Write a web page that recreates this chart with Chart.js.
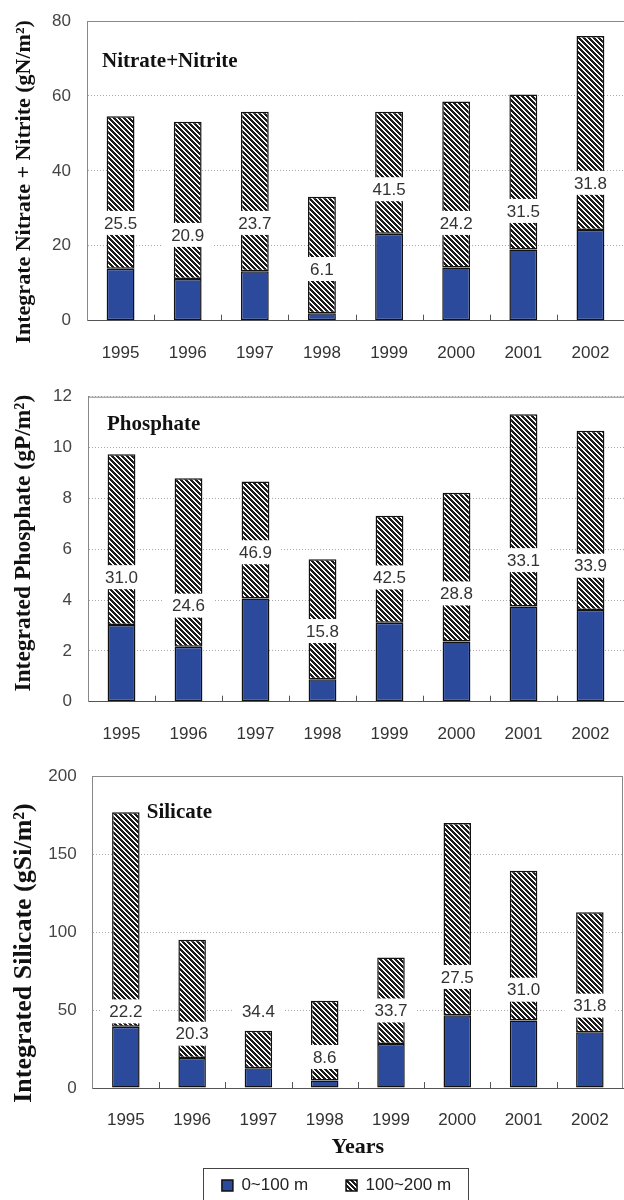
<!DOCTYPE html>
<html>
<head>
<meta charset="utf-8">
<script src="https://cdn.jsdelivr.net/npm/chart.js@4.4.0/dist/chart.umd.min.js"></script>
<style>
  body { margin: 0; background: #fff; width: 624px; height: 1200px; overflow: hidden; position: relative; }
  canvas { position: absolute; left: 0; }
</style>
</head>
<body>
<canvas id="nitrate" width="624" height="360" style="top:0"></canvas>
<canvas id="phosphate" width="624" height="380" style="top:360px"></canvas>
<canvas id="silicate" width="624" height="493" style="top:740px"></canvas>
<script>
const years = ['1995', '1996', '1997', '1998', '1999', '2000', '2001', '2002'];
const seriesNames = ['0~100 m', '100~200 m'];

// 0~100 m and 100~200 m layers, plus the % of the upper layer printed on each bar
const nitrateUpper = [13.9, 11.1, 13.2, 2.0, 23.2, 14.2, 19.0, 24.2];
const nitrateLower = [40.7, 42.0, 42.6, 31.1, 32.6, 44.3, 41.4, 51.8];
const nitratePct = ['25.5', '20.9', '23.7', '6.1', '41.5', '24.2', '31.5', '31.8'];
const nitratePctAt = [26.1, 22.9, 26.1, 13.8, 35.1, 26.1, 29.3, 36.8];

const phosphateUpper = [3.02, 2.16, 4.06, 0.88, 3.11, 2.37, 3.75, 3.61];
const phosphateLower = [6.72, 6.63, 4.60, 4.72, 4.21, 5.85, 7.56, 7.05];
const phosphatePct = ['31.0', '24.6', '46.9', '15.8', '42.5', '28.8', '33.1', '33.9'];
const phosphatePctAt = [4.90, 3.78, 5.88, 2.78, 4.89, 4.26, 5.57, 5.35];

const silicateUpper = [39.2, 19.3, 12.6, 4.8, 28.2, 46.7, 43.2, 35.8];
const silicateLower = [137.5, 75.8, 24.1, 51.2, 55.5, 123.2, 96.1, 76.8];
const silicatePct = ['22.2', '20.3', '34.4', '8.6', '33.7', '27.5', '31.0', '31.8'];
const silicatePctAt = [49.1, 34.8, 49.1, 19.9, 49.7, 71.2, 63.0, 52.8];

Chart.defaults.font.family = '"Liberation Sans", Arial, sans-serif';
Chart.defaults.color = '#333';

function hatch() {
  const n = 5;
  const c = document.createElement('canvas');
  c.width = n; c.height = n;
  const g = c.getContext('2d');
  g.fillStyle = '#fafafa';
  g.fillRect(0, 0, n, n);
  g.fillStyle = '#1c1c1c';
  for (let y = 0; y < n; y++) {
    for (let k = 0; k < 3; k++) g.fillRect((y + k) % n, y, 1, 1);
  }
  return g.createPattern(c, 'repeat');
}

const serif = '"Liberation Serif", "Times New Roman", serif';

// top edge, optional right edge, little inward ticks between years, panel name, axis title
const frame = {
  id: 'frame',
  beforeDatasetsDraw(chart, args, opts) {
    const { ctx, chartArea: a, scales: { x } } = chart;
    ctx.save();
    ctx.strokeStyle = '#888';
    ctx.lineWidth = 1;
    ctx.beginPath();
    ctx.moveTo(a.left, a.top + 0.5);
    ctx.lineTo(a.right, a.top + 0.5);
    if (opts.rightEdge) {
      ctx.moveTo(a.right - 0.5, a.top);
      ctx.lineTo(a.right - 0.5, a.bottom);
    }
    ctx.stroke();
    ctx.strokeStyle = '#555';
    ctx.beginPath();
    for (let i = 0; i < x.ticks.length - 1; i++) {
      const px = Math.round((x.getPixelForValue(i) + x.getPixelForValue(i + 1)) / 2) + 0.5;
      ctx.moveTo(px, a.bottom);
      ctx.lineTo(px, a.bottom - 6);
    }
    ctx.stroke();
    ctx.restore();
  },
  afterDatasetsDraw(chart, args, opts) {
    const { ctx, chartArea: a } = chart;
    ctx.save();
    ctx.font = 'bold 21px ' + serif;
    ctx.fillStyle = '#111';
    ctx.textBaseline = 'middle';
    ctx.fillText(opts.name, a.left + opts.dx, a.top + opts.dy);

    ctx.translate(24, (a.top + a.bottom) / 2 + opts.titleShift);
    ctx.rotate(-Math.PI / 2);
    ctx.font = 'bold ' + opts.titleSize + 'px ' + serif;
    ctx.textAlign = 'center';
    ctx.fillText(opts.title, 0, 0);
    ctx.restore();
  }
};

const pctLabels = {
  id: 'pctLabels',
  afterDatasetsDraw(chart, args, opts) {
    const { ctx, scales: { x, y } } = chart;
    ctx.save();
    ctx.font = '17px "Liberation Sans", Arial, sans-serif';
    ctx.textAlign = 'center';
    ctx.textBaseline = 'middle';
    opts.text.forEach((t, i) => {
      const px = x.getPixelForValue(i);
      const py = y.getPixelForValue(opts.at[i]);
      const w = ctx.measureText(t).width + 18;
      ctx.fillStyle = '#fff';
      ctx.fillRect(px - w / 2, py - 12, w, 24);
      ctx.fillStyle = '#333';
      ctx.fillText(t, px, py + 1);
    });
    ctx.restore();
  }
};

const legendFrame = {
  id: 'legendFrame',
  afterLayout(chart, args, opts) {
    const lg = chart.legend;
    if (!lg || !lg.options.display) return;
    lg.left += opts.dx; lg.right += opts.dx;
    lg.top += opts.dy; lg.bottom += opts.dy;
  },
  afterDraw(chart) {
    const lg = chart.legend;
    if (!lg || !lg.options.display) return;
    const hb = lg.legendHitBoxes;
    const first = hb[0], last = hb[hb.length - 1];
    const ctx = chart.ctx;
    ctx.save();
    ctx.strokeStyle = '#444';
    ctx.lineWidth = 1;
    const l = Math.round(first.left - 19) + 0.5;
    const r = Math.round(last.left + last.width + 17) + 0.5;
    const t = Math.round(first.top - 9) + 0.5;
    ctx.strokeRect(l, t, r - l, 60);
    ctx.restore();
  }
};

function makeChart(id, p) {
  const hatchFill = hatch();
  new Chart(document.getElementById(id), {
    type: 'bar',
    data: {
      labels: years,
      datasets: [
        { label: seriesNames[0], data: p.upper, backgroundColor: '#2c4a9b',
          borderColor: '#111', borderWidth: 1.5, borderSkipped: false },
        { label: seriesNames[1], data: p.lower, backgroundColor: hatchFill,
          borderColor: '#111', borderWidth: 1.5, borderSkipped: false }
      ]
    },
    options: {
      responsive: false,
      animation: false,
      layout: { padding: { top: p.top, right: p.right, left: 0, bottom: 0 } },
      datasets: { bar: { barPercentage: 0.415, categoryPercentage: 1 } },
      scales: {
        x: {
          stacked: true,
          grid: { display: false },
          border: { display: true, color: '#555', width: 1 },
          ticks: { font: { size: 17 }, color: '#333', padding: 14, maxRotation: 0 },
          title: {
            display: !!p.xTitle,
            text: p.xTitle,
            font: { family: serif, size: 22, weight: 'bold' },
            color: '#111',
            padding: { top: 4, bottom: 7 }
          },
          afterFit: s => { s.height = p.xHeight; }
        },
        y: {
          stacked: true,
          min: 0,
          max: p.max,
          grid: { color: '#aaa', lineWidth: 1, drawTicks: true, tickLength: 16, tickColor: 'rgba(0,0,0,0)' },
          border: { display: true, color: '#888', width: 1, dash: [1, 2] },
          ticks: { stepSize: p.step, font: { size: 17 }, color: '#444', padding: 0 },
          afterFit: s => { s.width = p.yWidth; }
        }
      },
      plugins: {
        tooltip: { enabled: false },
        legend: {
          display: !!p.legend,
          position: 'bottom',
          labels: { boxWidth: 11, boxHeight: 11, padding: 38, color: '#222', font: { size: 17 } }
        },
        frame: {
          name: p.name, dx: p.nameDx, dy: p.nameDy, rightEdge: !!p.rightEdge,
          title: p.yTitle, titleSize: p.yTitleSize, titleShift: p.yTitleShift
        },
        pctLabels: { text: p.pct, at: p.pctAt },
        legendFrame: { dx: 25, dy: -29 }
      }
    },
    plugins: [frame, pctLabels, legendFrame]
  });
}

makeChart('nitrate', {
  upper: nitrateUpper, lower: nitrateLower, pct: nitratePct, pctAt: nitratePctAt,
  max: 80, step: 20, top: 21, right: 0, xHeight: 39.3, yWidth: 87,
  yTitle: 'Integrate Nitrate + Nitrite (gN/m²)', yTitleSize: 22, yTitleShift: 11,
  name: 'Nitrate+Nitrite', nameDx: 15, nameDy: 41
});

makeChart('phosphate', {
  upper: phosphateUpper, lower: phosphateLower, pct: phosphatePct, pctAt: phosphatePctAt,
  max: 12, step: 2, top: 36.7, right: 0, xHeight: 38.3, yWidth: 88,
  yTitle: 'Integrated Phosphate (gP/m²)', yTitleSize: 23.5, yTitleShift: -6,
  name: 'Phosphate', nameDx: 19, nameDy: 28
});

makeChart('silicate', {
  upper: silicateUpper, lower: silicateLower, pct: silicatePct, pctAt: silicatePctAt,
  max: 200, step: 50, top: 36, right: 1, xHeight: 80, yWidth: 92.7,
  yTitle: 'Integrated Silicate (gSi/m²)', yTitleSize: 26, yTitleShift: 21,
  name: 'Silicate', nameDx: 54, nameDy: 37,
  xTitle: 'Years', legend: true, rightEdge: true
});
</script>
</body>
</html>
